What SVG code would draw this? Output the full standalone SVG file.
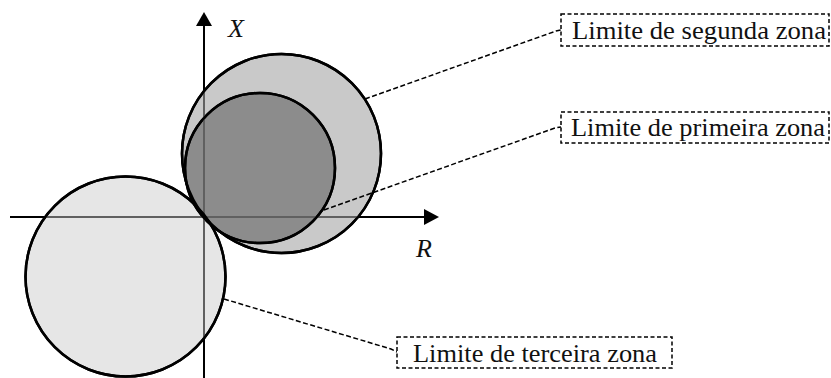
<svg xmlns="http://www.w3.org/2000/svg" width="831" height="378" viewBox="0 0 831 378">
<style>
.circ{stroke:#000;stroke-width:2.5}
.axis{stroke:#000;stroke-width:2;fill:none}
.axisin{stroke:#606060;stroke-width:2;fill:none}
.lead{stroke:#000;stroke-width:1.5;stroke-dasharray:5 2.5;fill:none}
.box{stroke:#000;stroke-width:1.5;stroke-dasharray:4 2.5;fill:#fff}
.lbl{font-family:"Liberation Serif","Times New Roman",serif;font-size:26px;fill:#111}
.ax{font-family:"Liberation Serif","Times New Roman",serif;font-size:26px;font-style:italic;fill:#111}
</style>
<defs>
<clipPath id="inside">
<circle cx="281.5" cy="153.5" r="99.5"/>
<circle cx="125.5" cy="276.5" r="100"/>
</clipPath>
</defs>
<g id="axes">
<line class="axis" x1="204" y1="378" x2="204" y2="22"/>
<polygon points="204,12 196,26 212,26" fill="#000"/>
<line class="axis" x1="10" y1="217" x2="428" y2="217"/>
<polygon points="439,217 424,209 424,225" fill="#000"/>
<text class="ax" x="228" y="37">X</text>
<text class="ax" x="416" y="257">R</text>
</g>
<g id="zone3">
<circle class="circ" cx="125.5" cy="276.5" r="100" fill="#e6e6e6"/>
</g>
<g id="zone2">
<circle class="circ" cx="281.5" cy="153.5" r="99.5" fill="#c9c9c9"/>
</g>
<g id="zone1">
<circle class="circ" cx="260" cy="168" r="75" fill="#8c8c8c"/>
</g>
<g id="axes-inside" clip-path="url(#inside)">
<line class="axisin" x1="204" y1="378" x2="204" y2="22"/>
<line class="axisin" x1="10" y1="217" x2="428" y2="217"/>
</g>
<g id="outlines" fill="none">
<circle class="circ" cx="125.5" cy="276.5" r="100" fill="none"/>
<circle class="circ" cx="281.5" cy="153.5" r="99.5" fill="none"/>
<circle class="circ" cx="260" cy="168" r="75" fill="none"/>
</g>
<g id="connectors">
<polyline class="lead" points="365,99 556,31 561,30"/>
<polyline class="lead" points="324,210 555,128 561,127"/>
<polyline class="lead" points="224,299 391,349 397,352"/>
</g>
<g id="label-segunda">
<rect class="box" x="561" y="14" width="268" height="32"/>
<text class="lbl" x="572" y="39" textLength="254" lengthAdjust="spacingAndGlyphs">Limite de segunda zona</text>
</g>
<g id="label-primeira">
<rect class="box" x="561" y="112" width="268" height="31"/>
<text class="lbl" x="571" y="136" textLength="254" lengthAdjust="spacingAndGlyphs">Limite de primeira zona</text>
</g>
<g id="label-terceira">
<rect class="box" x="397" y="337" width="275" height="31"/>
<text class="lbl" x="413" y="362" textLength="244" lengthAdjust="spacingAndGlyphs">Limite de terceira zona</text>
</g>
</svg>
